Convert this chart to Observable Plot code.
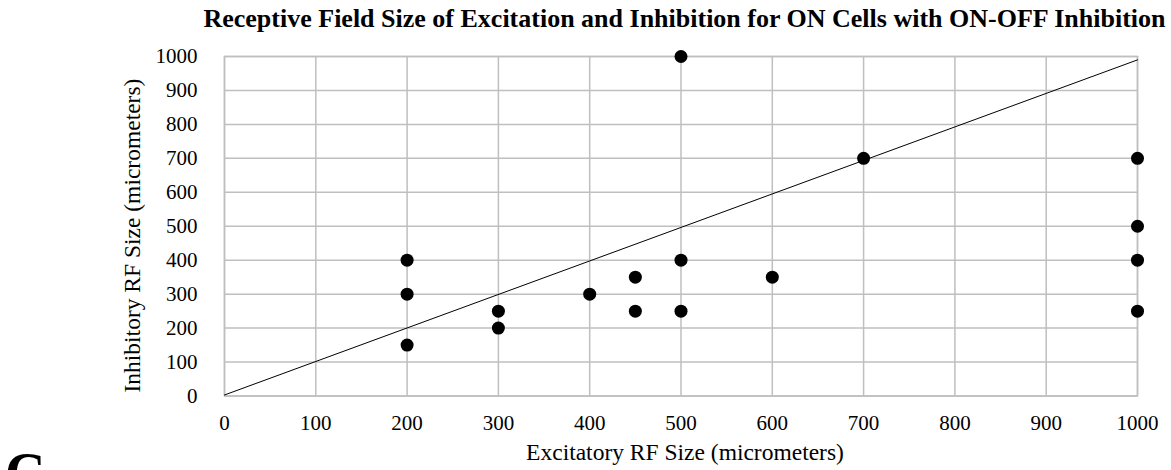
<!DOCTYPE html>
<html><head><meta charset="utf-8">
<script src="https://cdn.jsdelivr.net/npm/d3@7"></script>
<script src="https://cdn.jsdelivr.net/npm/@observablehq/plot@0.6"></script>
<style>
body{margin:0;background:#fff;font-family:"Liberation Serif","Times New Roman",serif;}
#wrap{position:relative;width:1171px;height:470px;overflow:hidden;background:#fff;}
#title{position:absolute;left:684.5px;top:5.5px;transform:translateX(-50%);white-space:nowrap;font-weight:bold;font-size:26px;line-height:1;color:#000;}
#chart{position:absolute;left:0;top:40px;}
#letter{position:absolute;left:5px;top:445px;font-size:56px;line-height:1;font-weight:bold;color:#000;}
</style>
</head><body>
<div id="wrap">
<div id="title"></div>
<div id="chart"></div>
<div id="letter">C</div>
</div>
<script>
const titleText = "Receptive Field Size of Excitation and Inhibition for ON Cells with ON-OFF Inhibition";
const xLabel = "Excitatory RF Size (micrometers)";
const yLabel = "Inhibitory RF Size (micrometers)";
const xTicks = [0,100,200,300,400,500,600,700,800,900,1000];
const yTicks = [0,100,200,300,400,500,600,700,800,900,1000];
const excitatory = [200,200,200,300,300,400,450,450,500,500,500,600,700,1000,1000,1000,1000];
const inhibitory = [400,300,150,250,200,300,350,250,1000,400,250,350,700,700,500,400,250];
const refX = [0,1000];
const refY = [3,990];

document.getElementById("title").textContent = titleText;
const points = excitatory.map((x,i)=>({x, y: inhibitory[i]}));
const refLine = refX.map((x,i)=>({x, y: refY[i]}));
const fmt = d => String(d);

const chart = Plot.plot({
  width: 1171, height: 430,
  marginLeft: 224, marginRight: 34, marginTop: 16, marginBottom: 74.5,
  style: {fontFamily: '"Liberation Serif","Times New Roman",serif', fontSize: "21px", color: "#000", background: "transparent", overflow: "visible"},
  x: {domain: [0,1000], label: null},
  y: {domain: [0,1000], label: null},
  marks: [
    Plot.gridX(xTicks, {stroke: "#bfbfbf", strokeOpacity: 1, strokeWidth: 1.5}),
    Plot.gridY(yTicks, {stroke: "#bfbfbf", strokeOpacity: 1, strokeWidth: 1.5}),
    Plot.frame({stroke: "#bfbfbf", strokeWidth: 1.5}),
    Plot.axisX(xTicks, {tickSize: 0, tickPadding: 19, label: null, tickFormat: fmt, fontSize: 21}),
    Plot.axisY(yTicks, {tickSize: 0, tickPadding: 27, label: null, tickFormat: fmt, fontSize: 21}),
    Plot.line(refLine, {x: "x", y: "y", stroke: "#000", strokeWidth: 1}),
    Plot.dot(points, {x: "x", y: "y", r: 6.5, fill: "#000", stroke: "none"}),
    Plot.text([xLabel], {frameAnchor: "bottom", textAnchor: "middle", dx: 4, dy: 63.7, fontSize: 23.5, fill: "#000"}),
    Plot.text([yLabel], {frameAnchor: "left", textAnchor: "middle", dx: -92.5, dy: 9.3, rotate: -90, fontSize: 23.5, fill: "#000"})
  ]
});
document.getElementById("chart").appendChild(chart);
</script>
</body></html>
